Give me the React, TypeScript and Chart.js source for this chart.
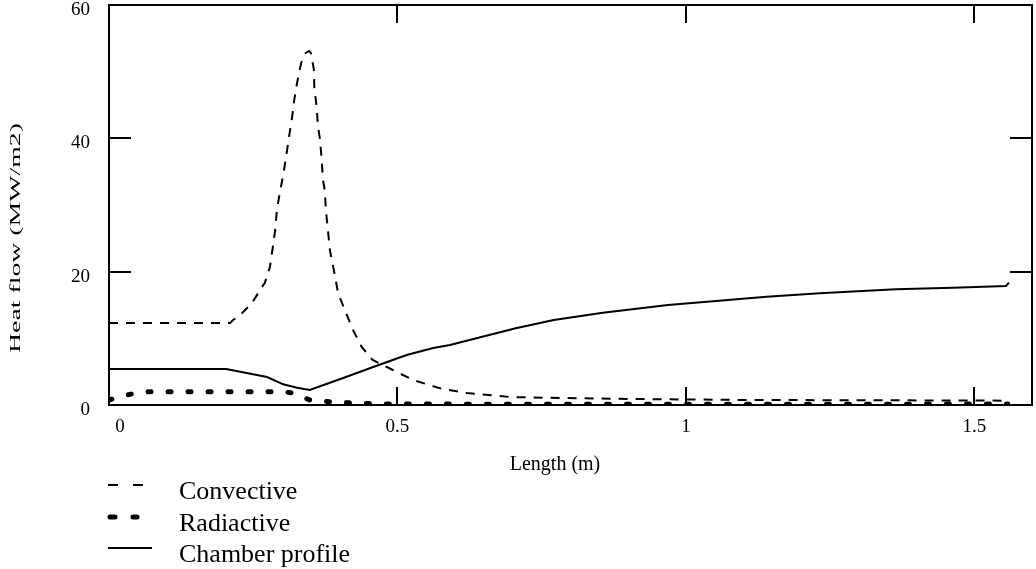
import React, { useEffect, useRef } from "react";
import { Chart, registerables } from "chart.js";

Chart.register(...registerables);

// ---- data ----
const xTicks = [0, 0.5, 1, 1.5];
const xTickLabels = ["0", "0.5", "1", "1.5"];
const yTicks = [0, 20, 40, 60];

const seriesNames = ["Convective", "Radiactive", "Chamber profile"];

const convX = [0, 0.21, 0.215, 0.224, 0.248, 0.265, 0.27, 0.279, 0.284, 0.288, 0.291, 0.296, 0.302, 0.307, 0.312, 0.317, 0.321, 0.326, 0.333, 0.341, 0.347, 0.35, 0.355, 0.356, 0.36, 0.362, 0.366, 0.369, 0.371, 0.374, 0.376, 0.38, 0.383, 0.388, 0.393, 0.397, 0.409, 0.423, 0.438, 0.457, 0.492, 0.527, 0.574, 0.62, 0.695, 0.782, 0.903, 1.111, 1.371, 1.558];
const convY = [12.3, 12.3, 12.75, 13.2, 15.3, 17.7, 18.3, 20.7, 23.7, 26.2, 29.2, 31.8, 34.5, 37.2, 40.2, 42.9, 45.7, 48.3, 51.3, 52.8, 53.1, 52.8, 50.4, 47.5, 44.7, 42.0, 39.7, 36.3, 33.7, 32.2, 29.2, 25.8, 23.2, 21.0, 18.75, 16.8, 14.2, 11.25, 8.7, 6.75, 5.25, 3.75, 2.5, 1.8, 1.2, 1.05, 0.9, 0.75, 0.7, 0.65];

const radX = [0, 0.036, 0.07, 0.15, 0.25, 0.3, 0.319, 0.348, 0.388, 0.426, 0.47, 0.7, 1.0, 1.3, 1.558];
const radY = [0.75, 1.6, 2.0, 2.0, 2.0, 2.0, 1.8, 0.75, 0.45, 0.3, 0.15, 0.12, 0.12, 0.12, 0.15];

const chX = [0, 0.203, 0.274, 0.302, 0.326, 0.348, 0.406, 0.458, 0.516, 0.562, 0.591, 0.705, 0.771, 0.856, 0.969, 1.14, 1.232, 1.364, 1.463, 1.555, 1.56];
const chY = [5.4, 5.4, 4.2, 3.1, 2.6, 2.25, 4.05, 5.7, 7.5, 8.55, 9.0, 11.5, 12.75, 13.85, 15.0, 16.25, 16.75, 17.35, 17.6, 17.85, 18.35];

const xTitle = "Length (m)";
const yTitle = "Heat flow (MW/m2)";

const FONT = '"Liberation Serif", "Times New Roman", serif';

const toPts = (xs: number[], ys: number[]) => xs.map((x, i) => ({ x, y: ys[i] }));

const framePlugin = {
  id: "mathcadFrame",
  afterDraw(chart: any) {
    const { ctx, chartArea: a } = chart;
    const xs = chart.scales.x;
    const ys = chart.scales.y;
    ctx.save();
    ctx.strokeStyle = "#000";
    ctx.fillStyle = "#000";
    ctx.lineWidth = 2;
    ctx.setLineDash([]);
    ctx.strokeRect(a.left, a.top, a.right - a.left, a.bottom - a.top);
    // inward tick marks
    ctx.beginPath();
    xTicks.forEach((v) => {
      if (v === 0) return;
      const p = Math.round(xs.getPixelForValue(v));
      ctx.moveTo(p, a.bottom);
      ctx.lineTo(p, a.bottom - 18);
      ctx.moveTo(p, a.top);
      ctx.lineTo(p, a.top + 18);
    });
    yTicks.forEach((v, i) => {
      if (i === 0 || i === yTicks.length - 1) return;
      const p = Math.round(ys.getPixelForValue(v));
      ctx.moveTo(a.left, p);
      ctx.lineTo(a.left + 22, p);
      ctx.moveTo(a.right, p);
      ctx.lineTo(a.right - 22, p);
    });
    ctx.stroke();

    // x tick labels
    ctx.font = `19px ${FONT}`;
    ctx.textAlign = "center";
    ctx.textBaseline = "alphabetic";
    xTicks.forEach((v, i) => {
      const p = xs.getPixelForValue(v) + (v === 0 ? 11 : 0);
      ctx.fillText(xTickLabels[i], p, a.bottom + 27);
    });

    // x title
    ctx.font = `20px ${FONT}`;
    ctx.fillText(xTitle, 555, 470);

    // y title (stretched along its length as in the reference)
    ctx.save();
    ctx.font = `15px ${FONT}`;
    const w = ctx.measureText(yTitle).width;
    ctx.translate(16, 238);
    ctx.rotate(-Math.PI / 2);
    ctx.scale(230 / w, 1);
    ctx.textAlign = "center";
    ctx.textBaseline = "middle";
    ctx.fillText(yTitle, 0, 0);
    ctx.restore();

    // legend
    const ds = chart.data.datasets;
    const rows = [485, 517, 548];
    ds.forEach((d: any, i: number) => {
      const yy = rows[i];
      ctx.save();
      ctx.strokeStyle = d.borderColor;
      ctx.lineWidth = d.borderWidth;
      ctx.lineCap = d.borderCapStyle || "butt";
      if (i === 0) {
        ctx.setLineDash([10, 15]);
        ctx.beginPath();
        ctx.moveTo(108, yy);
        ctx.lineTo(144, yy);
        ctx.stroke();
      } else if (i === 1) {
        ctx.setLineDash([5, 18]);
        ctx.beginPath();
        ctx.moveTo(110, yy);
        ctx.lineTo(137, yy);
        ctx.stroke();
      } else {
        ctx.setLineDash([]);
        ctx.beginPath();
        ctx.moveTo(108, yy);
        ctx.lineTo(152, yy);
        ctx.stroke();
      }
      ctx.restore();
      ctx.font = `26px ${FONT}`;
      ctx.textAlign = "left";
      ctx.textBaseline = "middle";
      ctx.fillStyle = "#000";
      ctx.fillText(d.label, 179, yy + 7);
    });
    ctx.restore();
  },
};

export default function App() {
  const ref = useRef<HTMLCanvasElement | null>(null);
  useEffect(() => {
    const canvas = ref.current;
    if (!canvas) return;
    const chart = new Chart(canvas, {
      type: "line",
      data: {
        datasets: [
          {
            label: seriesNames[0],
            data: toPts(convX, convY),
            borderColor: "#000",
            borderWidth: 2,
            borderDash: [9, 8],
            pointRadius: 0,
            tension: 0,
            fill: false,
          },
          {
            label: seriesNames[1],
            data: toPts(radX, radY),
            borderColor: "#000",
            borderWidth: 5,
            borderDash: [3, 17],
            borderCapStyle: "round",
            pointRadius: 0,
            tension: 0,
            fill: false,
          },
          {
            label: seriesNames[2],
            data: toPts(chX, chY),
            borderColor: "#000",
            borderWidth: 2,
            pointRadius: 0,
            tension: 0,
            fill: false,
          },
        ],
      } as any,
      options: {
        animation: false,
        responsive: false,
        devicePixelRatio: 1,
        layout: { padding: { top: 5, right: 4, left: 0, bottom: 0 } },
        plugins: { legend: { display: false }, tooltip: { enabled: false } },
        scales: {
          x: {
            type: "linear",
            min: 0,
            max: 1.6,
            grid: { display: false },
            border: { display: false },
            ticks: { display: false },
            afterBuildTicks: (s: any) => {
              s.ticks = xTicks.map((v) => ({ value: v }));
            },
            afterFit: (s: any) => {
              s.height = 164;
              s.paddingLeft = 0;
              s.paddingRight = 0;
            },
          },
          y: {
            type: "linear",
            min: 0,
            max: 60,
            grid: { display: false, drawTicks: false },
            border: { display: false },
            ticks: {
              color: "#000",
              font: { family: FONT, size: 19 },
              padding: 19,
              labelOffset: 5,
            },
            afterBuildTicks: (s: any) => {
              s.ticks = yTicks.map((v) => ({ value: v }));
            },
            afterFit: (s: any) => {
              s.width = 109;
              s.paddingTop = 0;
              s.paddingBottom = 0;
            },
          },
        },
      } as any,
      plugins: [framePlugin],
    });
    return () => chart.destroy();
  }, []);
  return (
    <div style={{ position: "absolute", left: 0, top: 0, width: 1036, height: 569, background: "#fff" }}>
      <canvas ref={ref} width={1036} height={569} style={{ display: "block" }} />
    </div>
  );
}
